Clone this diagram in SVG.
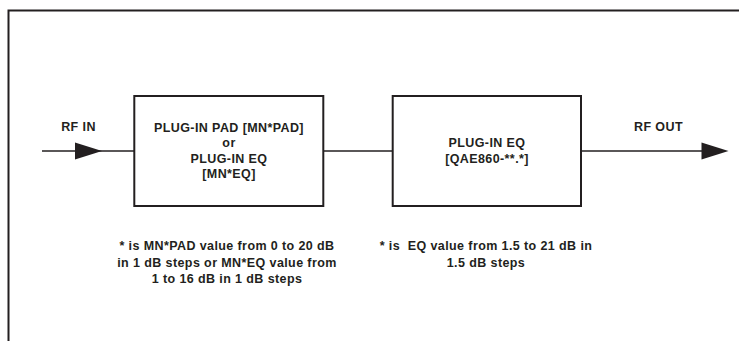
<svg xmlns="http://www.w3.org/2000/svg" width="739" height="341" viewBox="0 0 739 341">
<defs>
<style>
text{font-family:"Liberation Sans",Arial,Helvetica,sans-serif;font-weight:bold;font-size:12.5px;letter-spacing:0.4px;fill:#231f20;text-anchor:middle}
.box{fill:#fff;stroke:#231f20;stroke-width:2}
.wire{fill:none;stroke:#231f20;stroke-width:1.6}
.frame{fill:none;stroke:#231f20;stroke-width:2}
.head{fill:#231f20}
</style>
</defs>
<rect width="739" height="341" fill="#fff"/>
<path class="frame" d="M739 10.5 H8.5 V341"/>
<g id="connectors">
<line class="wire" x1="42" y1="151" x2="134" y2="151"/>
<polygon class="head" points="75,142.5 102,151 75,159.5"/>
<line class="wire" x1="323" y1="151" x2="393" y2="151"/>
<line class="wire" x1="581" y1="151" x2="703" y2="151"/>
<polygon class="head" points="701.5,142.5 728.5,151 701.5,159.5"/>
</g>
<g id="rf-in"><text x="78.5" y="131">RF IN</text></g>
<g id="rf-out"><text x="658.5" y="131">RF OUT</text></g>
<g id="pad">
<rect class="box" x="134.3" y="96" width="189" height="110"/>
<text x="229" y="131.5">PLUG-IN PAD [MN*PAD]</text>
<text x="229" y="147">or</text>
<text x="229" y="162.5">PLUG-IN EQ</text>
<text x="229" y="178">[MN*EQ]</text>
</g>
<g id="eq">
<rect class="box" x="392.7" y="96" width="188.3" height="110"/>
<text x="487" y="147">PLUG-IN EQ</text>
<text x="487" y="162.5">[QAE860-**.*]</text>
</g>
<g id="note-pad">
<text x="227" y="250">* is MN*PAD value from 0 to 20 dB</text>
<text x="227" y="266.5">in 1 dB steps or MN*EQ value from</text>
<text x="227" y="283">1 to 16 dB in 1 dB steps</text>
</g>
<g id="note-eq">
<text x="486" y="250" xml:space="preserve">* is  EQ value from 1.5 to 21 dB in</text>
<text x="486" y="266.5">1.5 dB steps</text>
</g>
</svg>
